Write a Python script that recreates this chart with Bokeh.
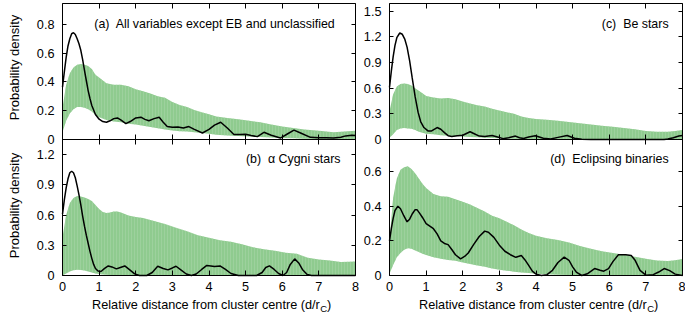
import math
from bokeh.plotting import figure
from bokeh.models import Range1d, FixedTicker, LinearAxis, PrintfTickFormatter, Label
from bokeh.embed import file_html
from bokeh.resources import INLINE

# ---------------- data ----------------
x_ticks = [0, 1, 2, 3, 4, 5, 6, 7, 8]

# Panel (a) all variables except EB and unclassified
a_env_x = [0.0, 0.1, 0.2, 0.3, 0.4, 0.5, 0.6, 0.7, 0.8, 0.9, 1.0, 1.2, 1.4, 1.6, 1.8, 2.0, 2.2, 2.4, 2.6, 2.8,
           3.0, 3.2, 3.4, 3.6, 3.8, 4.0, 4.2, 4.5, 4.8, 5.1, 5.4, 5.7, 6.0, 6.3, 6.6, 7.0, 7.4, 7.7, 8.0]
a_env_lo = [0.05, 0.13, 0.18, 0.21, 0.225, 0.225, 0.22, 0.21, 0.195, 0.17, 0.155, 0.135, 0.125, 0.12, 0.11, 0.105,
            0.095, 0.086, 0.078, 0.07, 0.063, 0.058, 0.055, 0.05, 0.045, 0.04, 0.033, 0.028, 0.025, 0.02, 0.017,
            0.014, 0.01, 0.008, 0.005, 0.003, 0.002, 0.002, 0.002]
a_env_hi = [0.22, 0.38, 0.46, 0.50, 0.52, 0.525, 0.52, 0.51, 0.49, 0.45, 0.43, 0.39, 0.38, 0.38, 0.37, 0.35,
            0.335, 0.32, 0.30, 0.29, 0.26, 0.24, 0.225, 0.205, 0.19, 0.175, 0.16, 0.15, 0.14, 0.13, 0.12,
            0.105, 0.09, 0.08, 0.07, 0.06, 0.05, 0.055, 0.06]
a_kde_x = [0.0, 0.05, 0.1, 0.15, 0.2, 0.25, 0.3, 0.35, 0.4, 0.45, 0.5, 0.55, 0.6, 0.65, 0.7, 0.75, 0.8, 0.9,
           1.0, 1.1, 1.2, 1.3, 1.4, 1.5, 1.6, 1.73, 1.85, 2.0, 2.14, 2.25, 2.36, 2.5, 2.64, 2.75, 2.86, 3.0,
           3.15, 3.3, 3.45, 3.6, 3.82, 4.0, 4.15, 4.32, 4.5, 4.68, 4.85, 5.0, 5.15, 5.32, 5.5, 5.7, 5.95,
           6.15, 6.32, 6.5, 6.77, 7.0, 7.2, 7.4, 7.6, 7.73, 7.9, 8.0]
a_kde_y = [0.364, 0.47, 0.57, 0.65, 0.70, 0.735, 0.742, 0.73, 0.70, 0.665, 0.62, 0.555, 0.48, 0.41, 0.34, 0.285,
           0.236, 0.174, 0.141, 0.125, 0.12, 0.13, 0.145, 0.15, 0.135, 0.11, 0.125, 0.15, 0.155, 0.14, 0.13,
           0.145, 0.155, 0.12, 0.09, 0.085, 0.087, 0.08, 0.09, 0.07, 0.045, 0.07, 0.10, 0.12, 0.08, 0.035,
           0.035, 0.037, 0.028, 0.02, 0.05, 0.03, 0.01, 0.04, 0.065, 0.045, 0.015, 0.012, 0.012, 0.01, 0.015,
           0.025, 0.03, 0.028]

# Panel (b) alpha Cygni stars
b_env_x = [0.0, 0.1, 0.2, 0.3, 0.4, 0.5, 0.6, 0.7, 0.8, 0.9, 1.0, 1.1, 1.2, 1.3, 1.4, 1.5, 1.6, 1.8, 2.0, 2.2,
           2.5, 2.8, 3.1, 3.4, 3.7, 4.0, 4.3, 4.6, 4.9, 5.2, 5.5, 5.8, 6.1, 6.4, 6.7, 7.0, 7.3, 7.6, 8.0]
b_env_lo = [0.0, 0.02, 0.04, 0.052, 0.056, 0.055, 0.05, 0.04, 0.03, 0.02, 0.015, 0.01, 0.007, 0.005, 0.004,
            0.003, 0.002, 0.001, 0.0, 0.0, 0.0, 0.0, 0.0, 0.0, 0.0, 0.0, 0.0, 0.0, 0.0, 0.0, 0.0, 0.0, 0.0,
            0.0, 0.0, 0.0, 0.0, 0.0, 0.0]
b_env_hi = [0.38, 0.60, 0.72, 0.77, 0.79, 0.785, 0.775, 0.76, 0.74, 0.70, 0.66, 0.63, 0.62, 0.625, 0.635, 0.635,
            0.625, 0.595, 0.58, 0.57, 0.54, 0.51, 0.475, 0.44, 0.40, 0.375, 0.35, 0.335, 0.31, 0.28, 0.26,
            0.245, 0.225, 0.215, 0.175, 0.16, 0.15, 0.135, 0.14]
b_kde_x = [0.0, 0.05, 0.1, 0.15, 0.2, 0.25, 0.3, 0.35, 0.4, 0.45, 0.5, 0.55, 0.6, 0.65, 0.7, 0.75, 0.8, 0.85,
           0.9, 0.97, 1.05, 1.15, 1.25, 1.35, 1.47, 1.58, 1.7, 1.82, 1.97, 2.1, 2.3, 2.45, 2.6, 2.75, 2.88,
           3.0, 3.1, 3.25, 3.38, 3.52, 3.65, 3.8, 3.94, 4.05, 4.15, 4.3, 4.45, 4.6, 4.8, 5.3, 5.45, 5.55,
           5.65, 5.78, 5.9, 6.02, 6.12, 6.22, 6.34, 6.45, 6.55, 6.68, 6.8, 8.0]
b_kde_y = [0.61, 0.75, 0.87, 0.96, 1.02, 1.035, 1.02, 0.97, 0.89, 0.80, 0.70, 0.59, 0.49, 0.40, 0.32, 0.24,
           0.17, 0.11, 0.07, 0.045, 0.04, 0.07, 0.095, 0.085, 0.066, 0.08, 0.095, 0.06, 0.016, 0.0, 0.0, 0.03,
           0.092, 0.07, 0.056, 0.075, 0.092, 0.05, 0.015, 0.0, 0.015, 0.06, 0.10, 0.095, 0.089, 0.095, 0.06,
           0.02, 0.0, 0.0, 0.03, 0.08, 0.095, 0.06, 0.02, 0.0, 0.03, 0.11, 0.165, 0.125, 0.06, 0.01, 0.0, 0.0]

# Panel (c) Be stars
c_env_x = [0.0, 0.1, 0.2, 0.3, 0.4, 0.5, 0.6, 0.7, 0.8, 0.9, 1.0, 1.2, 1.4, 1.6, 1.8, 2.0, 2.2, 2.4, 2.6, 2.8,
           3.0, 3.2, 3.4, 3.6, 3.8, 4.0, 4.3, 4.6, 4.9, 5.2, 5.5, 5.8, 6.1, 6.4, 6.7, 7.0, 7.3, 7.6, 7.8, 8.0]
c_env_lo = [0.02, 0.06, 0.11, 0.13, 0.135, 0.13, 0.125, 0.11, 0.09, 0.078, 0.068, 0.06, 0.05, 0.045, 0.04,
            0.035, 0.03, 0.025, 0.02, 0.017, 0.014, 0.01, 0.008, 0.006, 0.004, 0.003, 0.002, 0.001, 0.0, 0.0,
            0.0, 0.0, 0.0, 0.0, 0.0, 0.0, 0.0, 0.0, 0.0, 0.0]
c_env_hi = [0.33, 0.53, 0.62, 0.65, 0.655, 0.65, 0.63, 0.60, 0.57, 0.54, 0.51, 0.49, 0.48, 0.485, 0.47, 0.445,
            0.42, 0.40, 0.385, 0.36, 0.34, 0.32, 0.30, 0.27, 0.25, 0.24, 0.23, 0.22, 0.205, 0.19, 0.175, 0.16,
            0.15, 0.135, 0.12, 0.10, 0.09, 0.09, 0.10, 0.11]
c_kde_x = [0.0, 0.05, 0.1, 0.15, 0.2, 0.28, 0.35, 0.42, 0.48, 0.55, 0.62, 0.7, 0.78, 0.85, 0.94, 1.05, 1.15,
           1.3, 1.4, 1.5, 1.6, 1.7, 1.85, 2.0, 2.1, 2.2, 2.3, 2.45, 2.6, 2.8, 2.95, 3.1, 3.25, 3.44, 3.55,
           3.66, 3.8, 3.98, 4.2, 4.4, 4.6, 4.85, 5.05, 5.25, 5.5, 7.5, 7.6, 7.75, 7.9, 8.0]
c_kde_y = [0.61, 0.80, 0.97, 1.10, 1.19, 1.245, 1.23, 1.17, 1.08, 0.92, 0.72, 0.50, 0.32, 0.21, 0.14, 0.10,
           0.10, 0.14, 0.12, 0.08, 0.045, 0.035, 0.045, 0.05, 0.07, 0.09, 0.07, 0.04, 0.035, 0.047, 0.03,
           0.01, 0.02, 0.04, 0.02, 0.012, 0.03, 0.043, 0.015, 0.005, 0.025, 0.047, 0.015, 0.003, 0.0, 0.0,
           0.005, 0.02, 0.04, 0.047]

# Panel (d) eclipsing binaries
d_env_x = [0.0, 0.1, 0.2, 0.3, 0.4, 0.5, 0.6, 0.7, 0.8, 0.9, 1.0, 1.2, 1.4, 1.6, 1.8, 2.0, 2.2, 2.4, 2.6, 2.8,
           3.0, 3.2, 3.4, 3.6, 3.8, 4.0, 4.3, 4.6, 4.9, 5.2, 5.5, 5.8, 6.1, 6.4, 6.7, 7.0, 7.3, 7.6, 7.8, 8.0]
d_env_lo = [0.01, 0.06, 0.105, 0.13, 0.148, 0.158, 0.155, 0.145, 0.135, 0.125, 0.118, 0.105, 0.096, 0.09,
            0.085, 0.075, 0.067, 0.058, 0.05, 0.04, 0.033, 0.028, 0.022, 0.018, 0.014, 0.01, 0.007, 0.004,
            0.003, 0.002, 0.0, 0.0, 0.0, 0.0, 0.0, 0.0, 0.0, 0.0, 0.0, 0.0]
d_env_hi = [0.20, 0.45, 0.56, 0.61, 0.625, 0.63, 0.615, 0.59, 0.56, 0.53, 0.505, 0.47, 0.458, 0.455, 0.44,
            0.425, 0.41, 0.39, 0.37, 0.345, 0.33, 0.31, 0.29, 0.265, 0.245, 0.23, 0.215, 0.205, 0.19, 0.17,
            0.155, 0.14, 0.13, 0.12, 0.108, 0.097, 0.087, 0.083, 0.088, 0.095]
d_kde_x = [0.0, 0.05, 0.1, 0.15, 0.23, 0.3, 0.39, 0.48, 0.55, 0.62, 0.7, 0.75, 0.82, 0.9, 1.0, 1.1, 1.2, 1.3,
           1.4, 1.5, 1.6, 1.7, 1.8, 1.94, 2.05, 2.15, 2.3, 2.45, 2.6, 2.7, 2.85, 3.0, 3.15, 3.3, 3.45, 3.6,
           3.7, 3.8, 3.9, 4.0, 4.15, 4.3, 4.45, 4.6, 4.77, 4.9, 5.0, 5.1, 5.25, 5.4, 5.6, 5.75, 5.85, 5.98,
           6.1, 6.25, 6.45, 6.6, 6.7, 6.84, 7.0, 7.2, 7.35, 7.5, 7.65, 7.8, 8.0]
d_kde_y = [0.20, 0.27, 0.33, 0.375, 0.40, 0.385, 0.345, 0.31, 0.325, 0.355, 0.38, 0.38, 0.36, 0.335, 0.30,
           0.285, 0.27, 0.24, 0.20, 0.185, 0.178, 0.15, 0.12, 0.096, 0.11, 0.13, 0.18, 0.225, 0.256, 0.25,
           0.22, 0.175, 0.14, 0.12, 0.105, 0.115, 0.09, 0.058, 0.025, 0.008, 0.0, 0.005, 0.03, 0.075, 0.106,
           0.088, 0.05, 0.02, 0.0, 0.01, 0.04, 0.03, 0.025, 0.04, 0.08, 0.12, 0.12, 0.115, 0.09, 0.03, 0.002,
           0.005, 0.02, 0.04, 0.028, 0.008, 0.0]

titles = ["(a)\u00a0 All variables except EB and unclassified", "(b)\u00a0 α Cygni stars",
          "(c)\u00a0 Be stars", "(d)\u00a0 Eclipsing binaries"]
y_max = [0.945, 1.35, 1.59, 0.785]
y_ticks = [[0, 0.2, 0.4, 0.6, 0.8], [0, 0.3, 0.6, 0.9, 1.2],
           [0, 0.3, 0.6, 0.9, 1.2, 1.5], [0, 0.2, 0.4, 0.6]]
title_pos = [(7.45, 0.80), (7.59, 1.16), (7.62, 1.345), (7.62, 0.67)]
y_label = "Probability density"
x_label_main = "Relative distance from cluster centre (d/r"
x_label_sub = "C"
x_label_end = ")"

# ---------------- layout / style ----------------
W, H = 685, 314
FONT = "Liberation Sans"
GREEN = "#8fcb8f"
# frame pixel boxes: (left, right, bottom, top) measured from the canvas top-left
frames = [(62, 355, 139, 3), (62, 355, 275, 139), (389, 682, 139, 3), (389, 682, 275, 139)]
is_left = [True, True, False, False]
is_bottom = [False, True, False, True]
series = [(a_env_x, a_env_lo, a_env_hi, a_kde_x, a_kde_y),
          (b_env_x, b_env_lo, b_env_hi, b_kde_x, b_kde_y),
          (c_env_x, c_env_lo, c_env_hi, c_kde_x, c_kde_y),
          (d_env_x, d_env_lo, d_env_hi, d_kde_x, d_kde_y)]

p = figure(width=W, height=H, x_range=Range1d(0, W), y_range=Range1d(0, H),
           x_axis_location=None, y_axis_location=None, min_border=0,
           toolbar_location=None, output_backend="svg")
p.grid.visible = False
p.outline_line_color = None
p.background_fill_color = "white"
p.border_fill_color = "white"
p.styles = {"position": "absolute", "left": "0px", "top": "0px"}


def make_axis(xn, yn, ticks, loc, bounds, tick_len, show_labels, standoff):
    ax = LinearAxis(x_range_name=xn, y_range_name=yn, fixed_location=loc, bounds=bounds,
                    ticker=FixedTicker(ticks=ticks), formatter=PrintfTickFormatter(format="%g"))
    ax.major_tick_in = tick_len
    ax.major_tick_out = 0
    ax.minor_tick_in = 0
    ax.minor_tick_out = 0
    ax.axis_line_color = "black"
    ax.axis_line_width = 1
    ax.major_tick_line_color = "black"
    ax.major_label_text_font = FONT
    ax.major_label_text_font_size = "12.7px"
    ax.major_label_standoff = standoff
    if show_labels:
        ax.major_label_text_color = "black"
    else:
        ax.major_label_text_color = None
        ax.major_label_text_alpha = 0
    return ax


for i in range(4):
    fl, fr, fb, ft = frames[i]
    ux = (fr - fl) / 8.0
    uy = (fb - ft) / y_max[i]
    xn, yn = "x%d" % i, "y%d" % i
    p.extra_x_ranges[xn] = Range1d(-fl / ux, (W - fl) / ux)
    p.extra_y_ranges[yn] = Range1d(-(H - fb) / uy, fb / uy)
    env_x, env_lo, env_hi, kde_x, kde_y = series[i]

    p.varea(x=env_x, y1=env_lo, y2=env_hi, fill_color=GREEN, fill_alpha=1.0,
            hatch_pattern="|", hatch_color="#a6d6a6", hatch_alpha=0.6, hatch_scale=3, hatch_weight=1,
            x_range_name=xn, y_range_name=yn)
    p.line(kde_x, kde_y, line_color="black", line_width=1.5, x_range_name=xn, y_range_name=yn)

    ym = y_max[i]
    p.add_layout(make_axis(xn, yn, x_ticks, 0, (0, 8), 5, is_bottom[i], 6), "below")
    p.add_layout(make_axis(xn, yn, x_ticks, ym, (0, 8), 5, False, 0), "above")
    p.add_layout(make_axis(xn, yn, y_ticks[i], 0, (0, ym), 4, True, 8), "left")
    p.add_layout(make_axis(xn, yn, y_ticks[i], 8, (0, ym), 4, False, 0), "right")

    tx, ty = title_pos[i]
    p.add_layout(Label(x=tx, y=ty, x_range_name=xn, y_range_name=yn, text=titles[i],
                       text_align="right", text_baseline="middle",
                       text_font=FONT, text_font_size="12.4px", text_color="black"))

    if is_left[i]:
        p.add_layout(Label(x=0, y=ym / 2, x_range_name=xn, y_range_name=yn, x_offset=-48,
                           y_offset=(4 if i == 0 else 2), angle=math.pi / 2,
                           text=y_label, text_align="center", text_baseline="middle",
                           text_font=FONT, text_font_size="13px", text_color="black"))

    if is_bottom[i]:
        xr = 7.025
        p.add_layout(Label(x=xr, y=0, x_range_name=xn, y_range_name=yn, y_offset=-29.5,
                           text=x_label_main, text_align="right", text_baseline="middle",
                           text_font=FONT, text_font_size="12.7px", text_color="black"))
        p.add_layout(Label(x=xr, y=0, x_range_name=xn, y_range_name=yn, x_offset=0.5, y_offset=-33,
                           text=x_label_sub, text_align="left", text_baseline="middle",
                           text_font=FONT, text_font_size="9.5px", text_color="black"))
        p.add_layout(Label(x=xr, y=0, x_range_name=xn, y_range_name=yn, x_offset=7.3, y_offset=-29.5,
                           text=x_label_end, text_align="left", text_baseline="middle",
                           text_font=FONT, text_font_size="12.7px", text_color="black"))

open("out.html", "w").write(file_html(p, INLINE))
